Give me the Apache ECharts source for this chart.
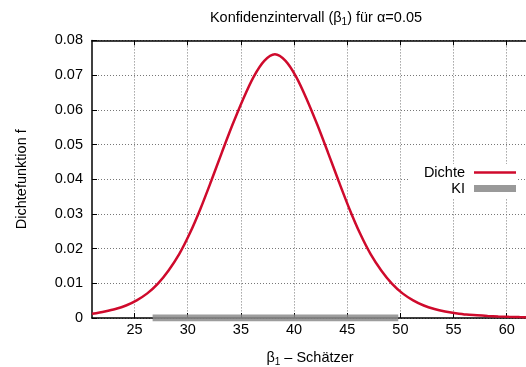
<!DOCTYPE html>
<html>
<head>
<meta charset="utf-8">
<script src="https://cdn.jsdelivr.net/npm/echarts@6/dist/echarts.min.js"></script>
<style>
html,body{margin:0;padding:0;background:#fff;}
#chart{width:526px;height:367px;}
</style>
</head>
<body>
<div id="chart"></div>
<script>
// ---- data ----
const xValues = [21,22.2,23.2,24.2,25.2,26.2,27.2,28.2,29.2,30.2,31.2,32.2,33.2,34.2,35.2,36.2,37.2,38.2,39.2,40.2,41.2,42.2,43.2,44.2,45.2,46.2,47.2,48.2,49.2,50.2,51.2,52.2,53.2,54.2,55.2,56.2,57.2,58.2,59.2,60.2,61.2,62];
const densityValues = [0.0012,0.0019,0.0026,0.0036,0.0051,0.0071,0.0099,0.0137,0.0184,0.0244,0.0315,0.0394,0.0476,0.0556,0.0630,0.0695,0.0741,0.0760,0.0741,0.0695,0.0630,0.0556,0.0476,0.0394,0.0315,0.0244,0.0184,0.0137,0.0099,0.0071,0.0051,0.0036,0.0026,0.0019,0.0014,0.0010,0.0008,0.0006,0.00045,0.00035,0.00027,0.00022];
const kiRange = [26.7, 49.8];
const xTicks = [25,30,35,40,45,50,55,60];
const yTicks = [0,0.01,0.02,0.03,0.04,0.05,0.06,0.07,0.08];
const seriesNames = ['Dichte','KI'];

const curveData = xValues.map((x,i)=>[x, densityValues[i]]);
const kiData = kiRange.map(x=>[x, 0]);

const FONT = 'Liberation Sans, Arial, sans-serif';
const FS = 14.5;
const chart = echarts.init(document.getElementById('chart'), null, {renderer:'canvas'});
const gridStyle = {show:true, lineStyle:{color:'#777', type:[1,2], width:1}};
const subRich = {
  a:{fontFamily:FONT,fontSize:FS,color:'#000',lineHeight:18},
  s:{fontFamily:FONT,fontSize:10,color:'#000',verticalAlign:'bottom',lineHeight:10}
};

chart.setOption({
  animation:false,
  backgroundColor:'#fff',
  textStyle:{fontFamily:FONT},
  title:{
    text:'Konfidenzintervall ({a|β}{s|1}) für α=0.05',
    left:311, top:4, textAlign:'center',
    textStyle:{fontFamily:FONT, fontSize:FS, fontWeight:'normal', color:'#000', rich:subRich}
  },
  legend:[
    {data:[seriesNames[0]], right:10, top:164, orient:'vertical', align:'right',
     icon:'rect', itemWidth:42, itemHeight:2.5, backgroundColor:'#fff', padding:[1,0,1,14],
     textStyle:{fontFamily:FONT,fontSize:FS,color:'#000',padding:[0,4,0,0]}},
    {data:[seriesNames[1]], right:10, top:180, orient:'vertical', align:'right',
     icon:'rect', itemWidth:42, itemHeight:7, backgroundColor:'#fff', padding:[1,0,2,14],
     textStyle:{fontFamily:FONT,fontSize:FS,color:'#000',padding:[0,4,0,0]}}
  ],
  grid:{left:92, top:40.4, width:436, height:277.6, containLabel:false, outerBoundsMode:'none'},
  xAxis:[{
    type:'value', min:21, max:62, position:'bottom',
    name:'{a|β}{s|1} – Schätzer', nameLocation:'middle', nameGap:31,
    nameTextStyle:{fontFamily:FONT,fontSize:FS,color:'#000', rich:subRich},
    axisLine:{show:true, onZero:false, lineStyle:{color:'#000', width:1.5}},
    axisTick:{show:true, inside:true, length:5, customValues:xTicks, lineStyle:{color:'#000'}},
    axisLabel:{show:true, customValues:xTicks, margin:4, fontFamily:FONT, fontSize:FS, color:'#000'},
    splitLine:gridStyle
  },{
    type:'value', min:21, max:62, position:'top',
    axisLine:{show:true, onZero:false, lineStyle:{color:'#000', width:1.5}},
    axisTick:{show:true, inside:true, length:5, customValues:xTicks, lineStyle:{color:'#000'}},
    axisLabel:{show:false, customValues:xTicks},
    splitLine:{show:false}
  }],
  yAxis:{
    type:'value', min:0, max:0.08, interval:0.01,
    name:'Dichtefunktion f', nameLocation:'middle', nameGap:63,
    nameTextStyle:{fontFamily:FONT,fontSize:FS,color:'#000'},
    axisLine:{show:true, lineStyle:{color:'#000', width:1.5}},
    axisTick:{show:true, inside:true, length:5, lineStyle:{color:'#000'}},
    axisLabel:{margin:9, fontFamily:FONT, fontSize:FS, color:'#000',
      formatter:v=>{const t=yTicks.find(y=>Math.abs(y-v)<1e-9); return t===0?'0':t.toFixed(2);}},
    splitLine:gridStyle
  },
  series:[
    {name:seriesNames[0], type:'line', data:curveData, smooth:0.3, showSymbol:false, symbol:'none',
     itemStyle:{color:'#cf0a2c'}, lineStyle:{color:'#cf0a2c', width:2.5}, z:3},
    {name:seriesNames[1], type:'line', data:kiData, showSymbol:false, symbol:'none',
     itemStyle:{color:'#999'}, lineStyle:{color:'rgba(140,140,140,0.85)', width:7, cap:'butt'}, z:4}
  ]
});
</script>
</body>
</html>
